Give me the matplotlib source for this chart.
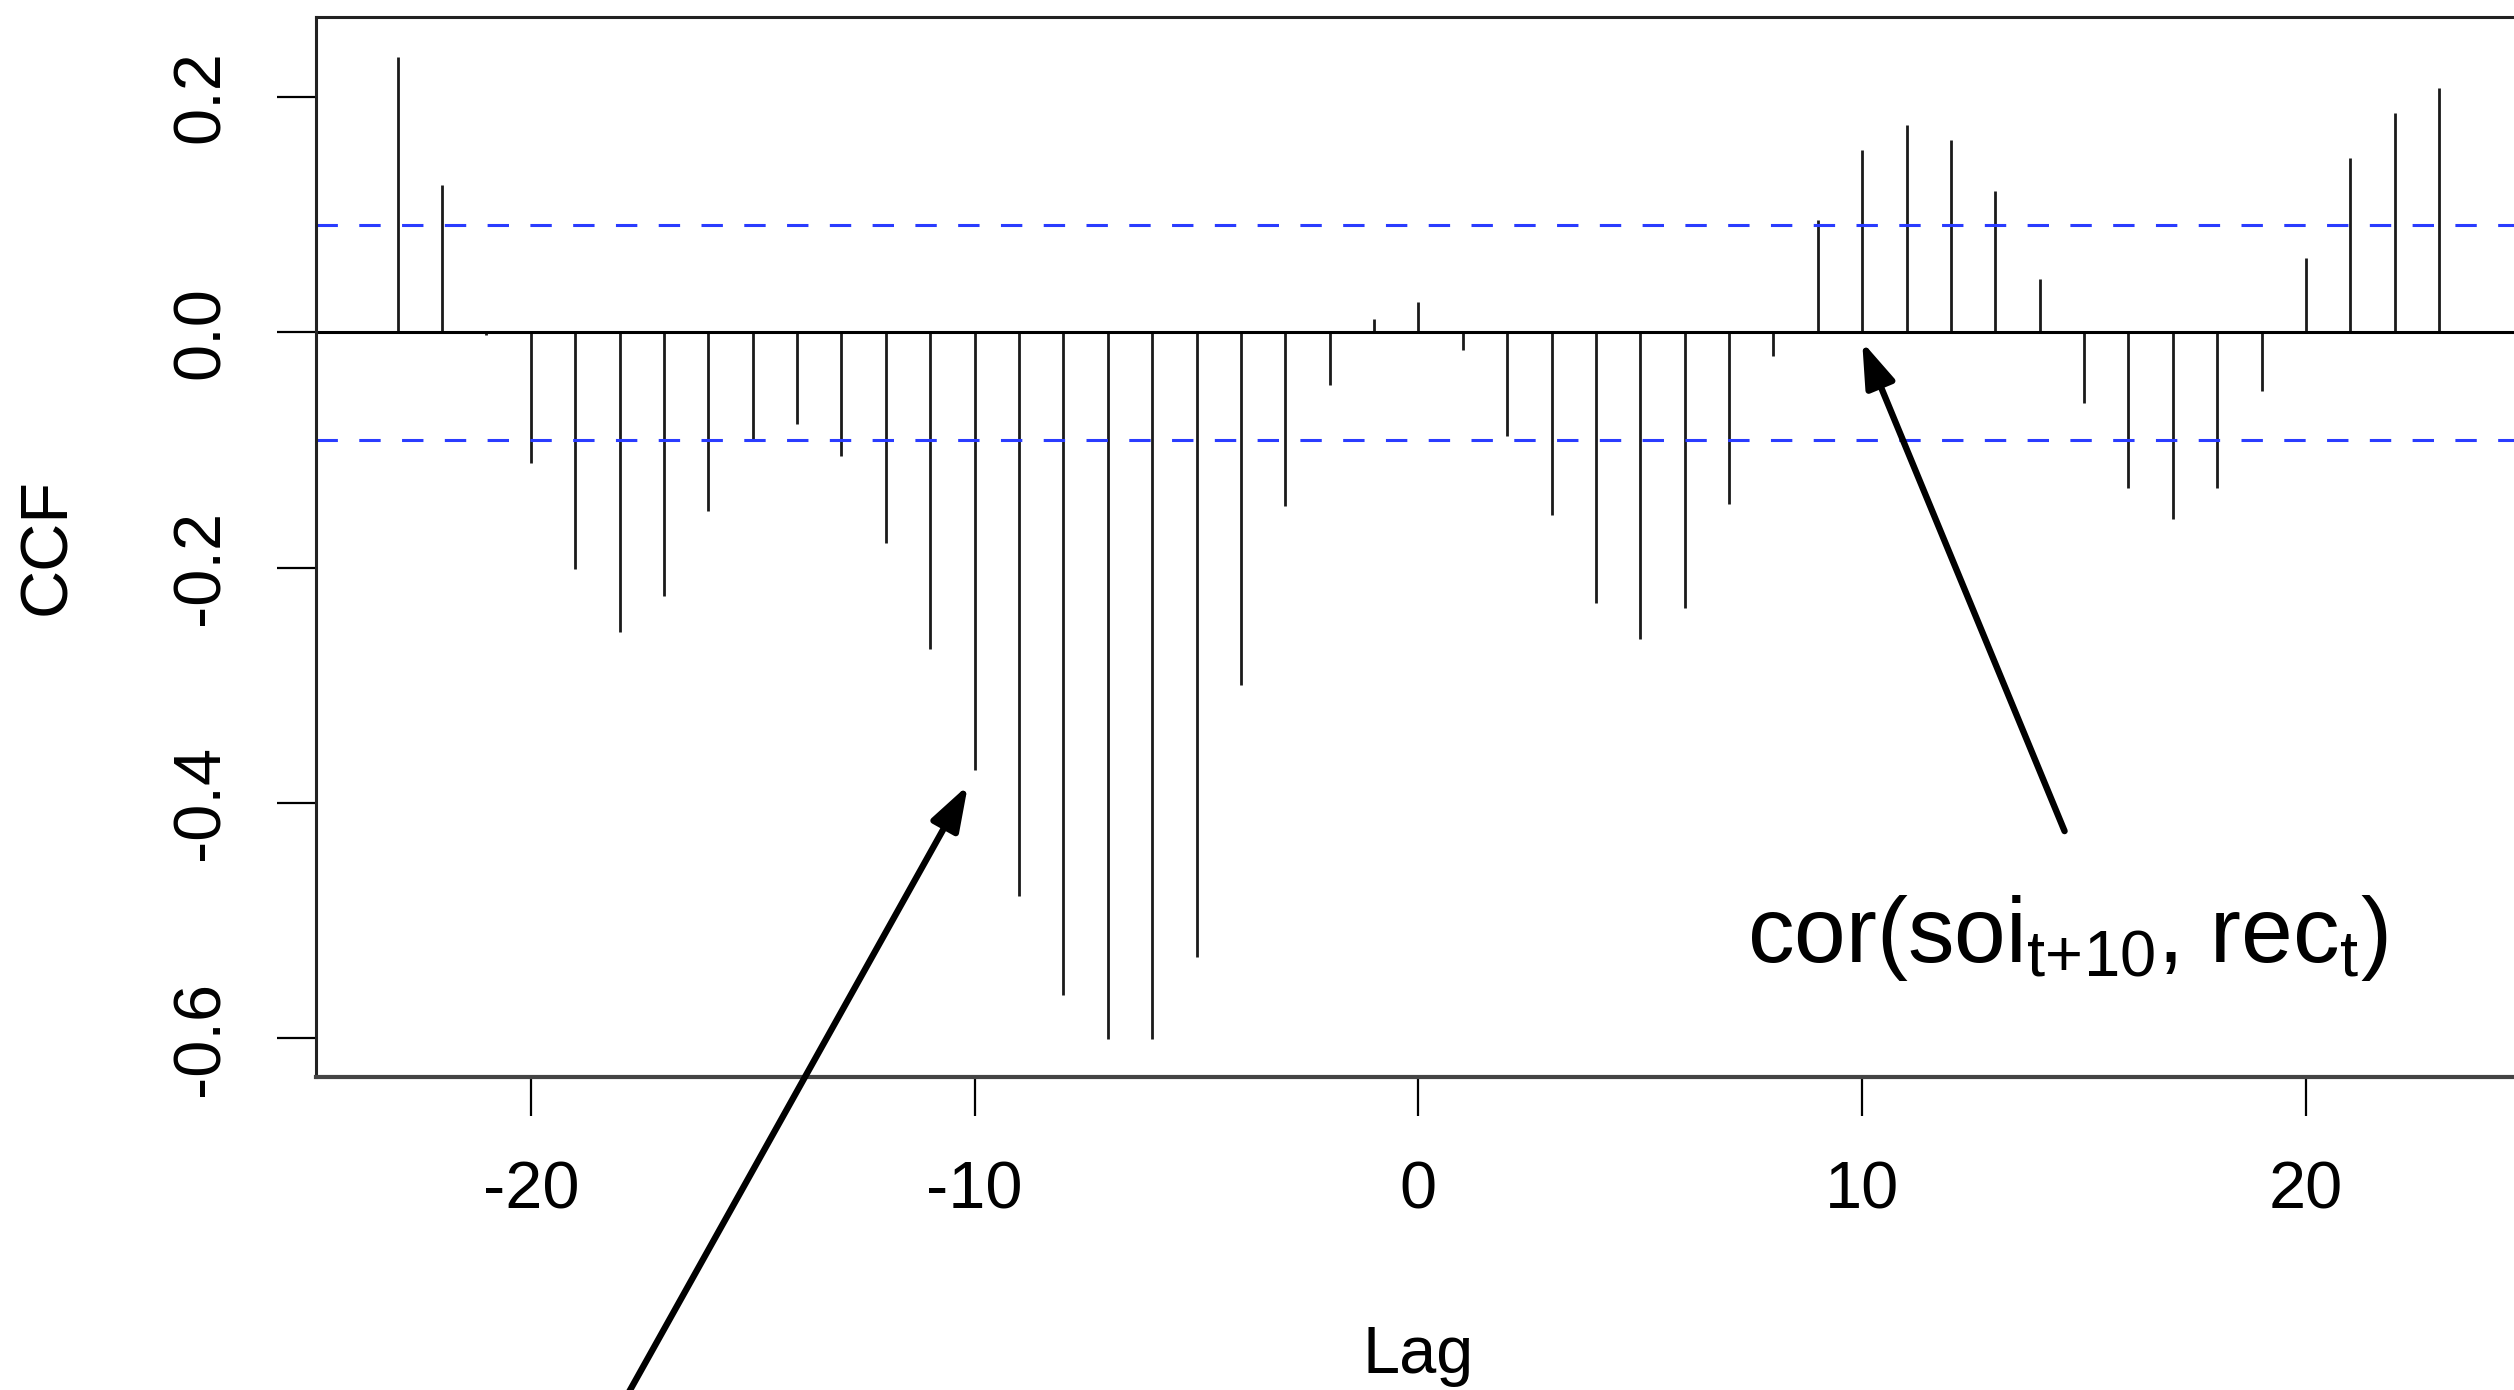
import matplotlib
matplotlib.use('Agg')
import matplotlib.pyplot as plt

lags = list(range(-23, 24))
ccf = [0.234, 0.125, -0.002, -0.111, -0.201, -0.255, -0.224, -0.152, -0.092,
       -0.078, -0.105, -0.179, -0.269, -0.372, -0.479, -0.563, -0.601, -0.601,
       -0.531, -0.300, -0.148, -0.045, 0.011, 0.026, -0.015, -0.088, -0.155,
       -0.230, -0.261, -0.234, -0.146, -0.020, 0.095, 0.155, 0.176, 0.163,
       0.120, 0.045, -0.060, -0.132, -0.159, -0.132, -0.050, 0.063, 0.148,
       0.186, 0.208]
conf = 0.0915
xticks = [-20, -10, 0, 10, 20]
yticks = [-0.6, -0.4, -0.2, 0.0, 0.2]

plt.rcParams['font.family'] = ['Liberation Sans', 'DejaVu Sans']
plt.rcParams['mathtext.fontset'] = 'custom'
plt.rcParams['mathtext.rm'] = 'Liberation Sans'
plt.rcParams['mathtext.it'] = 'Liberation Sans'

fig = plt.figure(figsize=(12.57, 6.95), dpi=200)
ax = fig.add_axes([0.1257, 0.2252, 0.877, 0.7626])

ax.vlines(lags, 0, ccf, colors='#1a1a1a', lw=1.0)
ax.axhline(0, color='black', lw=1.1)
for c in (conf, -conf):
    ax.axhline(c, color='#2a3cff', lw=1.1, linestyle=(0, (7, 7)))

ax.set_xlim(-24.84, 24.84)
ax.set_ylim(-0.633, 0.268)
ax.set_xticks(xticks)
ax.set_xticklabels([str(v) for v in xticks])
ax.set_yticks(yticks)
ax.set_yticklabels(['%.1f' % v for v in yticks], rotation=90, va='center')
ax.tick_params(axis='both', length=14, width=0.8, labelsize=24)
ax.tick_params(axis='x', pad=16)
ax.tick_params(axis='y', pad=16)

for s in ax.spines.values():
    s.set_linewidth(1.1)
    s.set_color('#222222')
ax.spines['bottom'].set_linewidth(1.5)
ax.spines['bottom'].set_color('#444444')

ax.set_xlabel('Lag', fontsize=24, labelpad=37)
ax.set_ylabel('CCF', fontsize=24, labelpad=33)

arrow = dict(arrowstyle='-|>,head_length=0.68,head_width=0.23', color='black',
             lw=2.3, mutation_scale=20, shrinkA=0, shrinkB=0)
ax.annotate('', xy=(10.0, -0.008), xytext=(14.56, -0.424), arrowprops=arrow,
            annotation_clip=False)
ax.annotate('', xy=(-10.15, -0.385), xytext=(-17.85, -0.905), arrowprops=arrow,
            annotation_clip=False)
ax.text(7.4, -0.535, r'cor(soi$_{\mathrm{t{+}10}}$, rec$_{\mathrm{t}}$)',
        fontsize=33.5, ha='left', va='baseline')

fig.savefig('out.png', dpi=200)
